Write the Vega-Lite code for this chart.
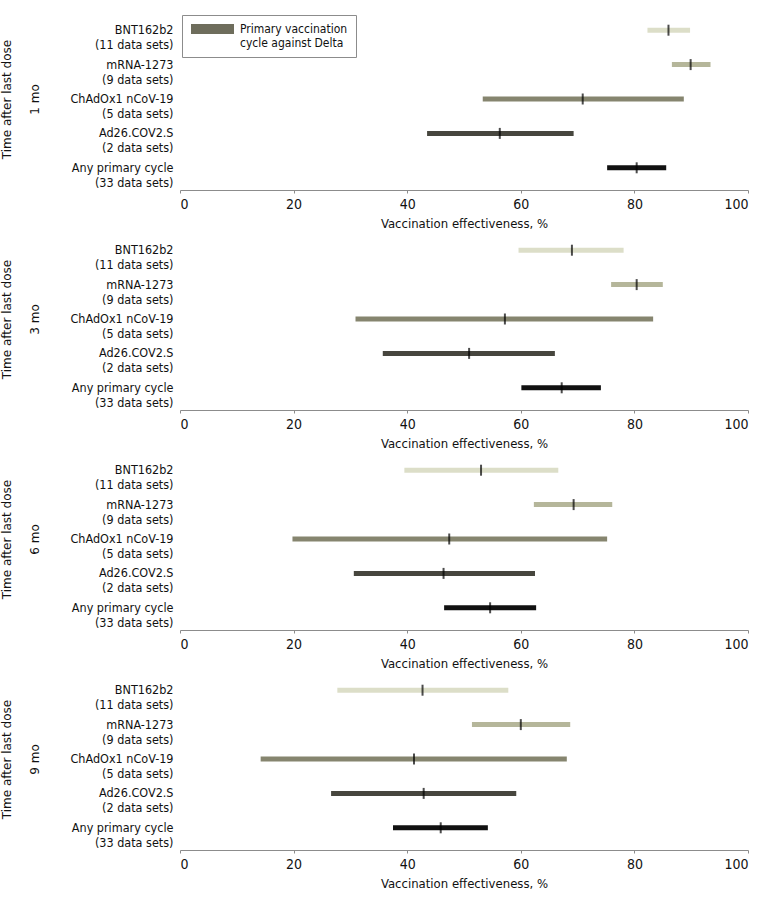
{
  "$schema": "https://vega.github.io/schema/vega-lite/v6.json",
  "description": "Vaccination effectiveness against Delta by time after last dose of primary cycle",
  "background": "white",
  "padding": {"left": 0, "top": 13, "right": 20, "bottom": 5},
  "spacing": 3,
  "datasets": {
    "ve": [
      {"time": "1 mo", "vaccine": "BNT162b2 (11 data sets)", "lo": 82.3, "est": 86.0, "hi": 89.8},
      {"time": "1 mo", "vaccine": "mRNA-1273 (9 data sets)", "lo": 86.6, "est": 89.9, "hi": 93.4},
      {"time": "1 mo", "vaccine": "ChAdOx1 nCoV-19 (5 data sets)", "lo": 53.3, "est": 70.9, "hi": 88.7},
      {"time": "1 mo", "vaccine": "Ad26.COV2.S (2 data sets)", "lo": 43.5, "est": 56.3, "hi": 69.3},
      {"time": "1 mo", "vaccine": "Any primary cycle (33 data sets)", "lo": 75.2, "est": 80.4, "hi": 85.6},
      {"time": "3 mo", "vaccine": "BNT162b2 (11 data sets)", "lo": 59.6, "est": 69.0, "hi": 78.1},
      {"time": "3 mo", "vaccine": "mRNA-1273 (9 data sets)", "lo": 75.9, "est": 80.4, "hi": 85.0},
      {"time": "3 mo", "vaccine": "ChAdOx1 nCoV-19 (5 data sets)", "lo": 30.9, "est": 57.2, "hi": 83.3},
      {"time": "3 mo", "vaccine": "Ad26.COV2.S (2 data sets)", "lo": 35.7, "est": 50.9, "hi": 66.0},
      {"time": "3 mo", "vaccine": "Any primary cycle (33 data sets)", "lo": 60.1, "est": 67.2, "hi": 74.1},
      {"time": "6 mo", "vaccine": "BNT162b2 (11 data sets)", "lo": 39.5, "est": 53.0, "hi": 66.6},
      {"time": "6 mo", "vaccine": "mRNA-1273 (9 data sets)", "lo": 62.3, "est": 69.3, "hi": 76.1},
      {"time": "6 mo", "vaccine": "ChAdOx1 nCoV-19 (5 data sets)", "lo": 19.8, "est": 47.4, "hi": 75.2},
      {"time": "6 mo", "vaccine": "Ad26.COV2.S (2 data sets)", "lo": 30.6, "est": 46.4, "hi": 62.5},
      {"time": "6 mo", "vaccine": "Any primary cycle (33 data sets)", "lo": 46.5, "est": 54.6, "hi": 62.7},
      {"time": "9 mo", "vaccine": "BNT162b2 (11 data sets)", "lo": 27.7, "est": 42.7, "hi": 57.8},
      {"time": "9 mo", "vaccine": "mRNA-1273 (9 data sets)", "lo": 51.4, "est": 60.0, "hi": 68.7},
      {"time": "9 mo", "vaccine": "ChAdOx1 nCoV-19 (5 data sets)", "lo": 14.2, "est": 41.2, "hi": 68.1},
      {"time": "9 mo", "vaccine": "Ad26.COV2.S (2 data sets)", "lo": 26.6, "est": 42.9, "hi": 59.2},
      {"time": "9 mo", "vaccine": "Any primary cycle (33 data sets)", "lo": 37.5, "est": 45.9, "hi": 54.2}
    ]
  },
  "config": {
    "view": {"stroke": null},
    "font": "DejaVu Sans Condensed",
    "axisX": {
      "grid": false,
      "offset": 5,
      "domainColor": "#8c8c8c",
      "tickColor": "#8c8c8c",
      "tickSize": 3,
      "labelFont": "DejaVu Sans Condensed",
      "labelFontSize": 14,
      "labelColor": "#111",
      "labelPadding": 4,
      "titleFont": "DejaVu Sans Condensed",
      "titleFontSize": 13,
      "titleFontWeight": "normal",
      "titleColor": "#111",
      "titlePadding": 6
    },
    "axisY": {
      "domain": false,
      "ticks": false,
      "grid": false,
      "labelFont": "DejaVu Sans Condensed",
      "labelFontSize": 12.5,
      "labelColor": "#111",
      "labelLineHeight": 15,
      "labelPadding": 7,
      "labelLimit": 200,
      "titleFont": "DejaVu Sans",
      "titleFontSize": 12,
      "titleFontWeight": "normal",
      "titleColor": "#111",
      "titleLineHeight": 28,
      "titlePadding": 28
    }
  },
  "vconcat": [
    {
      "width": 568,
      "height": 172,
      "data": {"name": "ve"},
      "transform": [{"filter": "datum.time == '1 mo'"}],
      "encoding": {
        "y": {
          "field": "vaccine",
          "type": "nominal",
          "sort": null,
          "axis": {
            "title": ["Time after last dose", "1 mo"],
            "labelExpr": "[split(datum.label, ' (')[0], '(' + split(datum.label, ' (')[1]]"
          }
        }
      },
      "layer": [
        {
          "mark": {"type": "bar", "size": 5},
          "encoding": {
            "x": {"field": "lo", "type": "quantitative", "scale": {"domain": [0, 100]}, "axis": {"values": [0, 20, 40, 60, 80, 100]}, "title": "Vaccination effectiveness, %"},
            "x2": {"field": "hi"},
            "color": {
              "field": "vaccine",
              "type": "nominal",
              "sort": null,
              "scale": {"range": ["#dcdec8", "#b5b69a", "#86856f", "#47463e", "#111111"]},
              "legend": null
            }
          }
        },
        {
          "mark": {"type": "bar", "size": 5, "opacity": 0},
          "encoding": {
            "x": {"field": "lo", "type": "quantitative"},
            "x2": {"field": "hi"},
            "fill": {
              "datum": "Primary vaccination cycle against Delta",
              "type": "nominal",
              "scale": {"range": ["#6e6d5c"]},
              "legend": {
                "title": null,
                "orient": "top-left",
                "offset": 2,
                "padding": 8,
                "strokeColor": "#8c8c8c",
                "fillColor": "white",
                "symbolType": "M-1,-1H7.6V1H-1Z",
                "symbolSize": 100,
                "symbolStrokeWidth": 0,
                "symbolOpacity": 1,
                "labelExpr": "['Primary vaccination', 'cycle against Delta']",
                "labelFont": "DejaVu Sans Condensed",
                "labelFontSize": 12,
                "labelLineHeight": 13,
                "labelBaseline": "middle",
                "labelColor": "#111",
                "labelOffset": 38,
                "labelLimit": 300
              }
            }
          }
        },
        {
          "mark": {"type": "tick", "thickness": 2, "size": 11, "color": "black"},
          "encoding": {"x": {"field": "est", "type": "quantitative"}}
        }
      ]
    },
    {
      "width": 568,
      "height": 172,
      "data": {"name": "ve"},
      "transform": [{"filter": "datum.time == '3 mo'"}],
      "encoding": {
        "y": {
          "field": "vaccine",
          "type": "nominal",
          "sort": null,
          "axis": {
            "title": ["Time after last dose", "3 mo"],
            "labelExpr": "[split(datum.label, ' (')[0], '(' + split(datum.label, ' (')[1]]"
          }
        }
      },
      "layer": [
        {
          "mark": {"type": "bar", "size": 5},
          "encoding": {
            "x": {"field": "lo", "type": "quantitative", "scale": {"domain": [0, 100]}, "axis": {"values": [0, 20, 40, 60, 80, 100]}, "title": "Vaccination effectiveness, %"},
            "x2": {"field": "hi"},
            "color": {
              "field": "vaccine",
              "type": "nominal",
              "sort": null,
              "scale": {"range": ["#dcdec8", "#b5b69a", "#86856f", "#47463e", "#111111"]},
              "legend": null
            }
          }
        },
        {
          "mark": {"type": "tick", "thickness": 2, "size": 11, "color": "black"},
          "encoding": {"x": {"field": "est", "type": "quantitative"}}
        }
      ]
    },
    {
      "width": 568,
      "height": 172,
      "data": {"name": "ve"},
      "transform": [{"filter": "datum.time == '6 mo'"}],
      "encoding": {
        "y": {
          "field": "vaccine",
          "type": "nominal",
          "sort": null,
          "axis": {
            "title": ["Time after last dose", "6 mo"],
            "labelExpr": "[split(datum.label, ' (')[0], '(' + split(datum.label, ' (')[1]]"
          }
        }
      },
      "layer": [
        {
          "mark": {"type": "bar", "size": 5},
          "encoding": {
            "x": {"field": "lo", "type": "quantitative", "scale": {"domain": [0, 100]}, "axis": {"values": [0, 20, 40, 60, 80, 100]}, "title": "Vaccination effectiveness, %"},
            "x2": {"field": "hi"},
            "color": {
              "field": "vaccine",
              "type": "nominal",
              "sort": null,
              "scale": {"range": ["#dcdec8", "#b5b69a", "#86856f", "#47463e", "#111111"]},
              "legend": null
            }
          }
        },
        {
          "mark": {"type": "tick", "thickness": 2, "size": 11, "color": "black"},
          "encoding": {"x": {"field": "est", "type": "quantitative"}}
        }
      ]
    },
    {
      "width": 568,
      "height": 172,
      "data": {"name": "ve"},
      "transform": [{"filter": "datum.time == '9 mo'"}],
      "encoding": {
        "y": {
          "field": "vaccine",
          "type": "nominal",
          "sort": null,
          "axis": {
            "title": ["Time after last dose", "9 mo"],
            "labelExpr": "[split(datum.label, ' (')[0], '(' + split(datum.label, ' (')[1]]"
          }
        }
      },
      "layer": [
        {
          "mark": {"type": "bar", "size": 5},
          "encoding": {
            "x": {"field": "lo", "type": "quantitative", "scale": {"domain": [0, 100]}, "axis": {"values": [0, 20, 40, 60, 80, 100]}, "title": "Vaccination effectiveness, %"},
            "x2": {"field": "hi"},
            "color": {
              "field": "vaccine",
              "type": "nominal",
              "sort": null,
              "scale": {"range": ["#dcdec8", "#b5b69a", "#86856f", "#47463e", "#111111"]},
              "legend": null
            }
          }
        },
        {
          "mark": {"type": "tick", "thickness": 2, "size": 11, "color": "black"},
          "encoding": {"x": {"field": "est", "type": "quantitative"}}
        }
      ]
    }
  ]
}
